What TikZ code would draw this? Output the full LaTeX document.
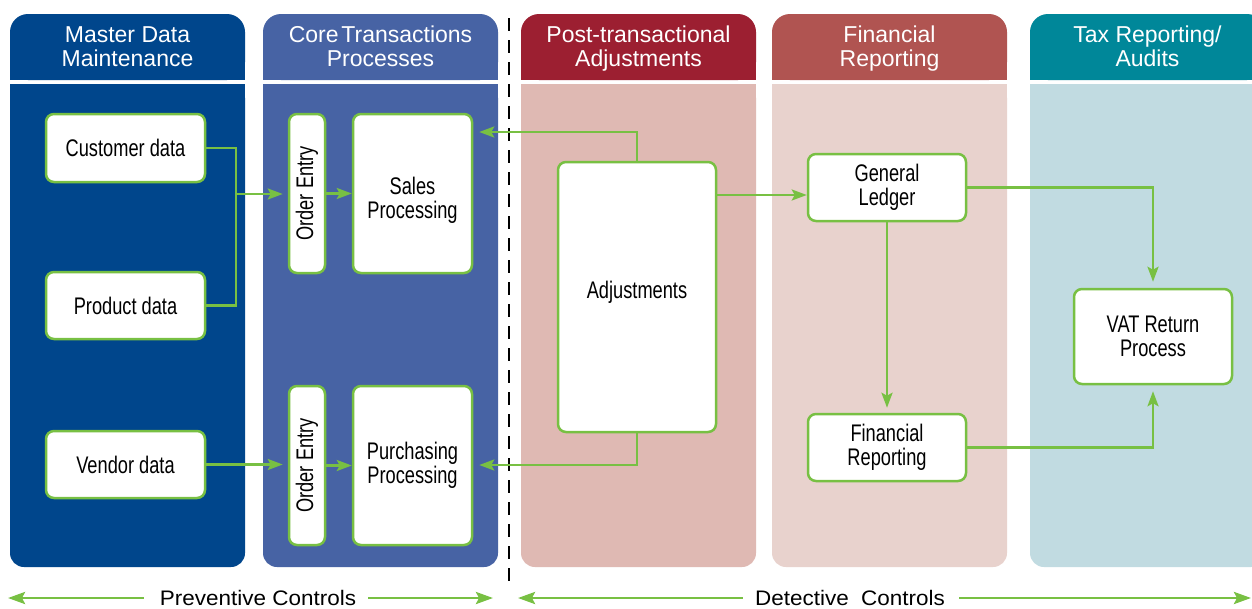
\documentclass[tikz,border=0pt]{standalone}
\usepackage{fontspec}
\setmainfont{Liberation Sans}
\newfontfamily\condfont[FakeStretch=0.76]{Liberation Sans}
\newfontfamily\widefont[FakeStretch=1.07]{Liberation Sans}
\usetikzlibrary{arrows.meta}
\definecolor{grn}{HTML}{78C043}
\definecolor{hA}{HTML}{00468C}
\definecolor{bA}{HTML}{00468C}
\definecolor{hB}{HTML}{4763A4}
\definecolor{bB}{HTML}{4763A4}
\definecolor{hC}{HTML}{9C1F31}
\definecolor{bC}{HTML}{DFB9B3}
\definecolor{hD}{HTML}{B05451}
\definecolor{bD}{HTML}{E8D2CD}
\definecolor{hE}{HTML}{008799}
\definecolor{bE}{HTML}{C1DBE1}
\newcommand{\colblock}[6]{%
  \fill[#2,rounded corners=18pt] (#1,14) rectangle ++(235,66);
  \fill[#2] (#1,50) rectangle ++(235,30);
  \fill[#3,rounded corners=14pt] (#1,84) rectangle ++(235,483);
  \fill[#3] (#1,84) rectangle ++(235,40);
  \node[hdr] (#4) at (#1+117.5,50) {\strut #5\\\strut #6};
}
\begin{document}
\begin{tikzpicture}[x=1pt,y=-1pt,
  box/.style={draw=grn, line width=2.5pt, fill=white, rounded corners=8pt, inner sep=0pt, align=center, font=\condfont\fontsize{24}{24}\selectfont},
  conn/.style={draw=grn, line width=2.5pt, -{Stealth[length=15pt,width=11pt,inset=3pt]}},
  bot/.style={draw=grn, line width=2.8pt, -{Stealth[length=17pt,width=12pt,inset=3pt]}},
  hdr/.style={text=white, align=center, inner sep=0pt, font=\fontsize{23}{24}\selectfont},
  lbl/.style={font=\widefont\fontsize{21}{24}\selectfont, inner sep=0pt}]
\clip (0,0) rectangle (1252,608);
\fill[white] (0,0) rectangle (1252,608);
\colblock{10}{hA}{bA}{h1}{Master Data}{Maintenance}
\colblock{263}{hB}{bB}{h2}{Core\hspace{0.12em}Transactions}{Processes}
\colblock{521}{hC}{bC}{h3}{Post-transactional}{Adjustments}
\colblock{772}{hD}{bD}{h4}{Financial}{Reporting}
\colblock{1030}{hE}{bE}{h5}{Tax Reporting/}{Audits}
\draw[line width=2.5pt, dash pattern=on 13pt off 9pt] (509,18) -- (509,582);

\node[box, minimum width=159pt, minimum height=68pt] (cust) at (125.5,148) {Customer data};
\node[box, minimum width=159pt, minimum height=67pt] (prod) at (125.5,305.5) {Product data};
\node[box, minimum width=159pt, minimum height=67pt] (vend) at (125.5,464.5) {Vendor data};
\node[box, minimum width=36pt, minimum height=159pt] (oe1) at (307,193.5) {\rotatebox{90}{Order Entry}};
\node[box, minimum width=119pt, minimum height=159pt, text height=54pt] (sales) at (412.5,193.5) {Sales\\Processing};
\node[box, minimum width=36pt, minimum height=159pt] (oe2) at (307,465.5) {\rotatebox{90}{Order Entry}};
\node[box, minimum width=119pt, minimum height=159pt] (purch) at (412.5,465.5) {Purchasing\\Processing};
\node[box, minimum width=158pt, minimum height=270pt, text depth=15pt] (adj) at (637,297) {Adjustments};
\node[box, minimum width=158pt, minimum height=67pt] (gl) at (887,187.5) {General\\Ledger};
\node[box, minimum width=158pt, minimum height=67pt] (fr) at (887,447.5) {Financial\\Reporting};
\node[box, minimum width=158pt, minimum height=95pt] (vat) at (1153,336.5) {VAT Return\\Process};

\coordinate (j) at (236,194);
\coordinate (aTop) at (0,132);
\coordinate (aBot) at (0,465);
\coordinate (aR) at (0,195);

\draw[draw=grn, line width=2.5pt] (cust.east) -| (j) |- (prod.east);
\draw[conn, shorten >=5pt] (j) -- (j -| oe1.west);
\draw[conn] (oe1.east) -- (sales.west);
\draw[conn, shorten >=5pt] (vend.east) -- (vend.east -| oe2.west);
\draw[conn] (oe2.east |- purch.west) -- (purch.west);
\draw[conn, shorten >=6pt] (adj.north) |- (sales.east |- aTop);
\draw[conn, shorten >=6pt] (adj.south) |- (purch.east |- aBot);
\draw[conn] (adj.east |- aR) -- (gl.west |- aR);
\draw[conn, shorten >=6pt] (gl.east) -| (vat.north);
\draw[conn, shorten >=5pt] (gl.south) -- (fr.north);
\draw[conn, shorten >=6pt] (fr.east) -| (vat.south);

\node[lbl] (prev) at (258,598) {Preventive Controls};
\node[lbl] (det) at (850,598) {Detective\ \ Controls};
\coordinate (pL) at (8,598);
\coordinate (pR) at (493,598);
\coordinate (dL) at (518,598);
\coordinate (dR) at (1251,598);
\draw[bot, shorten <=16pt] (prev.west) -- (pL);
\draw[bot, shorten <=12pt] (prev.east) -- (pR);
\draw[bot, shorten <=12pt] (det.west) -- (dL);
\draw[bot, shorten <=14pt] (det.east) -- (dR);
\end{tikzpicture}
\end{document}
